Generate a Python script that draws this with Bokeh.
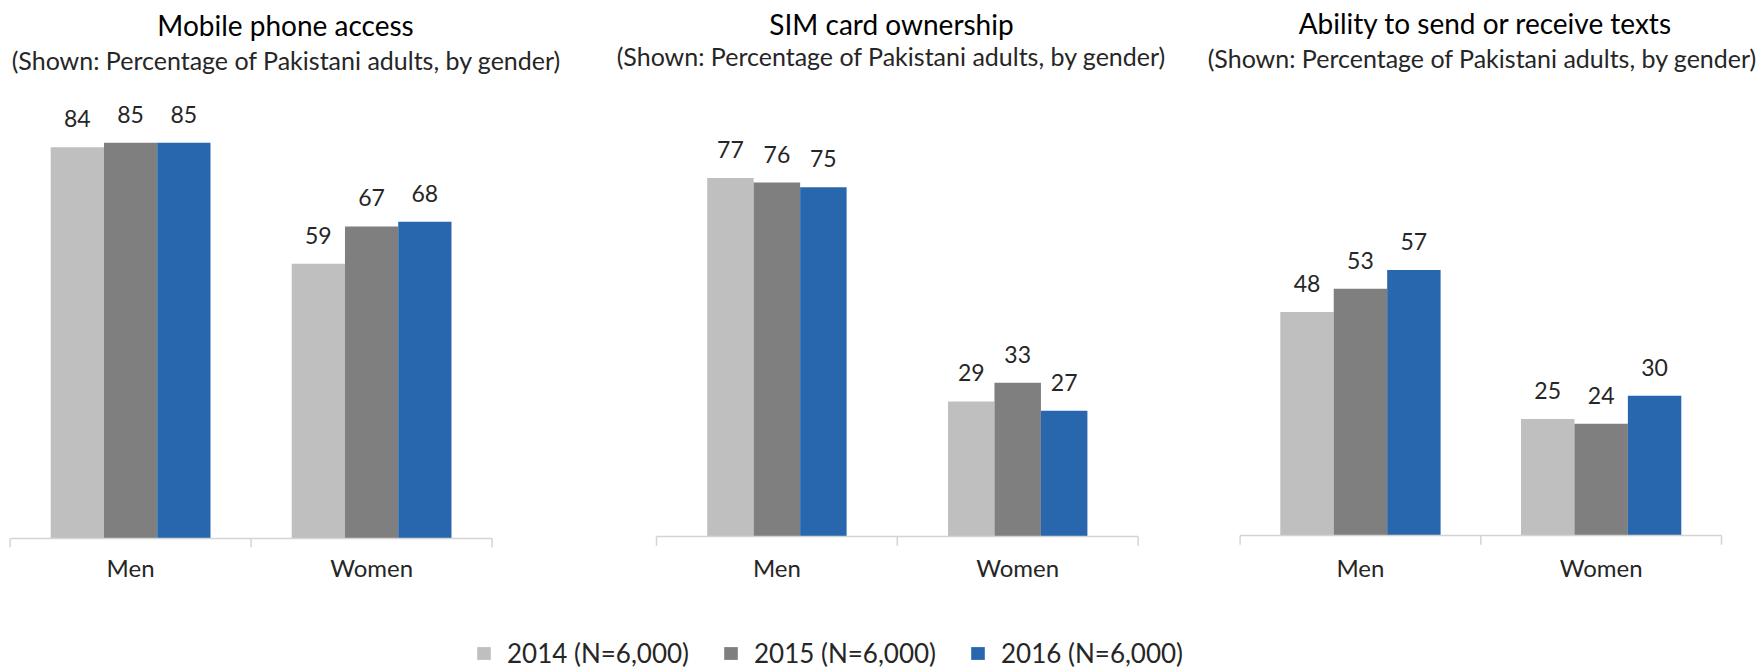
from bokeh.plotting import figure
from bokeh.models import (Range1d, ColumnDataSource, LabelSet, Label, Legend, LegendItem,
                          FixedTicker)
from bokeh.transform import dodge
from bokeh.layouts import column, row
from bokeh.core.properties import value
from bokeh.embed import file_html
from bokeh.resources import INLINE

# ---------------- data ----------------
genders = ["Men", "Women"]
years = ["2014 (N=6,000)", "2015 (N=6,000)", "2016 (N=6,000)"]
titles = ["Mobile phone access", "SIM card ownership", "Ability to send or receive texts"]
subtitle = "(Shown: Percentage of Pakistani adults, by gender)"

access_2014 = [84, 59]
access_2015 = [85, 67]
access_2016 = [85, 68]

sim_2014 = [77, 29]
sim_2015 = [76, 33]
sim_2016 = [75, 27]

texts_2014 = [48, 25]
texts_2015 = [53, 24]
texts_2016 = [57, 30]

series = [
    [access_2014, access_2015, access_2016],
    [sim_2014, sim_2015, sim_2016],
    [texts_2014, texts_2015, texts_2016],
]

# ---------------- style / layout ----------------
colors = ["#BFBFBF", "#7F7F7F", "#2867AE"]
FONT = "Lato"
TXT = "#262626"
AXIS = "#D4D4D4"
ROW_H = 600
MB_BOTTOM = 53
FRAME_H = ROW_H - MB_BOTTOM
SCALE = 4.657  # px per percentage point
TITLE_SHIFT = 10

layouts = [
    dict(left=0, w=590, axis_left=9.6, cat=241.0, axis_y=538, bar=0.221,
         title=(285, 34), sub=(286, 69)),
    dict(left=590, w=598, axis_left=656.0, cat=240.8, axis_y=536, bar=0.193,
         title=(891, 33), sub=(891, 65)),
    dict(left=1188, w=572, axis_left=1239.6, cat=240.7, axis_y=535, bar=0.222,
         title=(1485, 32), sub=(1482, 67)),
]

sources = []


def make_panel(title, vals, L):
    center0 = L["axis_left"] + L["cat"] / 2
    xr = Range1d((L["left"] - center0) / L["cat"], (L["left"] + L["w"] - center0) / L["cat"])
    yr = Range1d(-(FRAME_H - L["axis_y"]) / SCALE, L["axis_y"] / SCALE)
    p = figure(width=L["w"], height=ROW_H, x_range=xr, y_range=yr,
               toolbar_location=None, output_backend="svg",
               y_axis_location=None, title=None, min_border=0)
    p.min_border_bottom = MB_BOTTOM
    p.outline_line_color = None
    p.grid.visible = False
    p.background_fill_color = "white"
    p.border_fill_color = "white"

    idx = list(range(len(genders)))
    data = {"idx": idx, "gender": genders}
    for i, v in enumerate(vals):
        data[f"v{i}"] = v
        data[f"t{i}"] = [str(x) for x in v]
    src = ColumnDataSource(data)
    sources.append(src)

    for i in range(3):
        off = (i - 1) * L["bar"]
        p.vbar(x=dodge("idx", off), top=f"v{i}", bottom=0,
               width=L["bar"], source=src, fill_color=colors[i], line_color=None)
        p.add_layout(LabelSet(x=dodge("idx", off), y=f"v{i}", text=f"t{i}",
                              source=src, y_offset=20, text_align="center",
                              text_baseline="alphabetic", text_font=value(FONT),
                              text_font_size="23px", text_color=TXT))

    # category axis line and separators
    p.segment(x0=dodge("idx", -0.5), y0=0, x1=dodge("idx", 0.5), y1=0,
              source=src, line_color=AXIS, line_width=1.5)
    p.segment(x0=dodge("idx", -0.5), y0=0, x1=dodge("idx", -0.5), y1=-2,
              source=src, line_color=AXIS, line_width=1.5)
    end_src = ColumnDataSource({"idx": [idx[-1]]})
    p.segment(x0=dodge("idx", 0.5), y0=0, x1=dodge("idx", 0.5), y1=-2,
              source=end_src, line_color=AXIS, line_width=1.5)

    ax = p.xaxis[0]
    ax.ticker = FixedTicker(ticks=idx)
    ax.major_label_overrides = {i: g for i, g in zip(idx, genders)}
    ax.axis_line_color = None
    ax.major_tick_line_color = None
    ax.minor_tick_line_color = None
    ax.major_tick_out = 0
    ax.major_tick_in = 0
    ax.major_label_standoff = 5
    ax.major_label_text_font = FONT
    ax.major_label_text_font_size = "24px"
    ax.major_label_text_color = TXT

    tx, ty = L["title"]
    sx, sy = L["sub"]
    p.add_layout(Label(x=tx - L["left"], y=FRAME_H - ty + TITLE_SHIFT,
                       x_units="screen", y_units="screen",
                       text=title, text_align="center", text_baseline="alphabetic",
                       text_font=FONT, text_font_size="28px", text_color="#000000"))
    p.add_layout(Label(x=sx - L["left"], y=FRAME_H - sy + TITLE_SHIFT,
                       x_units="screen", y_units="screen",
                       text=subtitle, text_align="center", text_baseline="alphabetic",
                       text_font=FONT, text_font_size="25px", text_color=TXT))
    return p


panels = [make_panel(t, s, L) for t, s, L in zip(titles, series, layouts)]

# ---------------- legend ----------------
lf = figure(width=1760, height=70, x_range=Range1d(10, 11), y_range=Range1d(0, 1),
            toolbar_location=None, output_backend="svg", min_border=0,
            x_axis_location=None, y_axis_location=None, title=None)
lf.outline_line_color = None
lf.grid.visible = False
rs = [lf.vbar(x="idx", top=f"v{i}", width=0.1, source=sources[0], fill_color=c,
              line_color=None, visible=False) for i, c in enumerate(colors)]
legend = Legend(items=[LegendItem(label=y, renderers=[r]) for y, r in zip(years, rs)],
                location=(475, 1), orientation="horizontal", glyph_width=17, glyph_height=16,
                label_standoff=15, spacing=33, padding=0, margin=0, border_line_color=None,
                background_fill_alpha=0, inactive_fill_alpha=0,
                label_text_font=FONT, label_text_font_size="26px", label_text_color=TXT)
lf.add_layout(legend)

layout = column(row(*panels), lf)
open("out.html", "w").write(file_html(layout, INLINE))
